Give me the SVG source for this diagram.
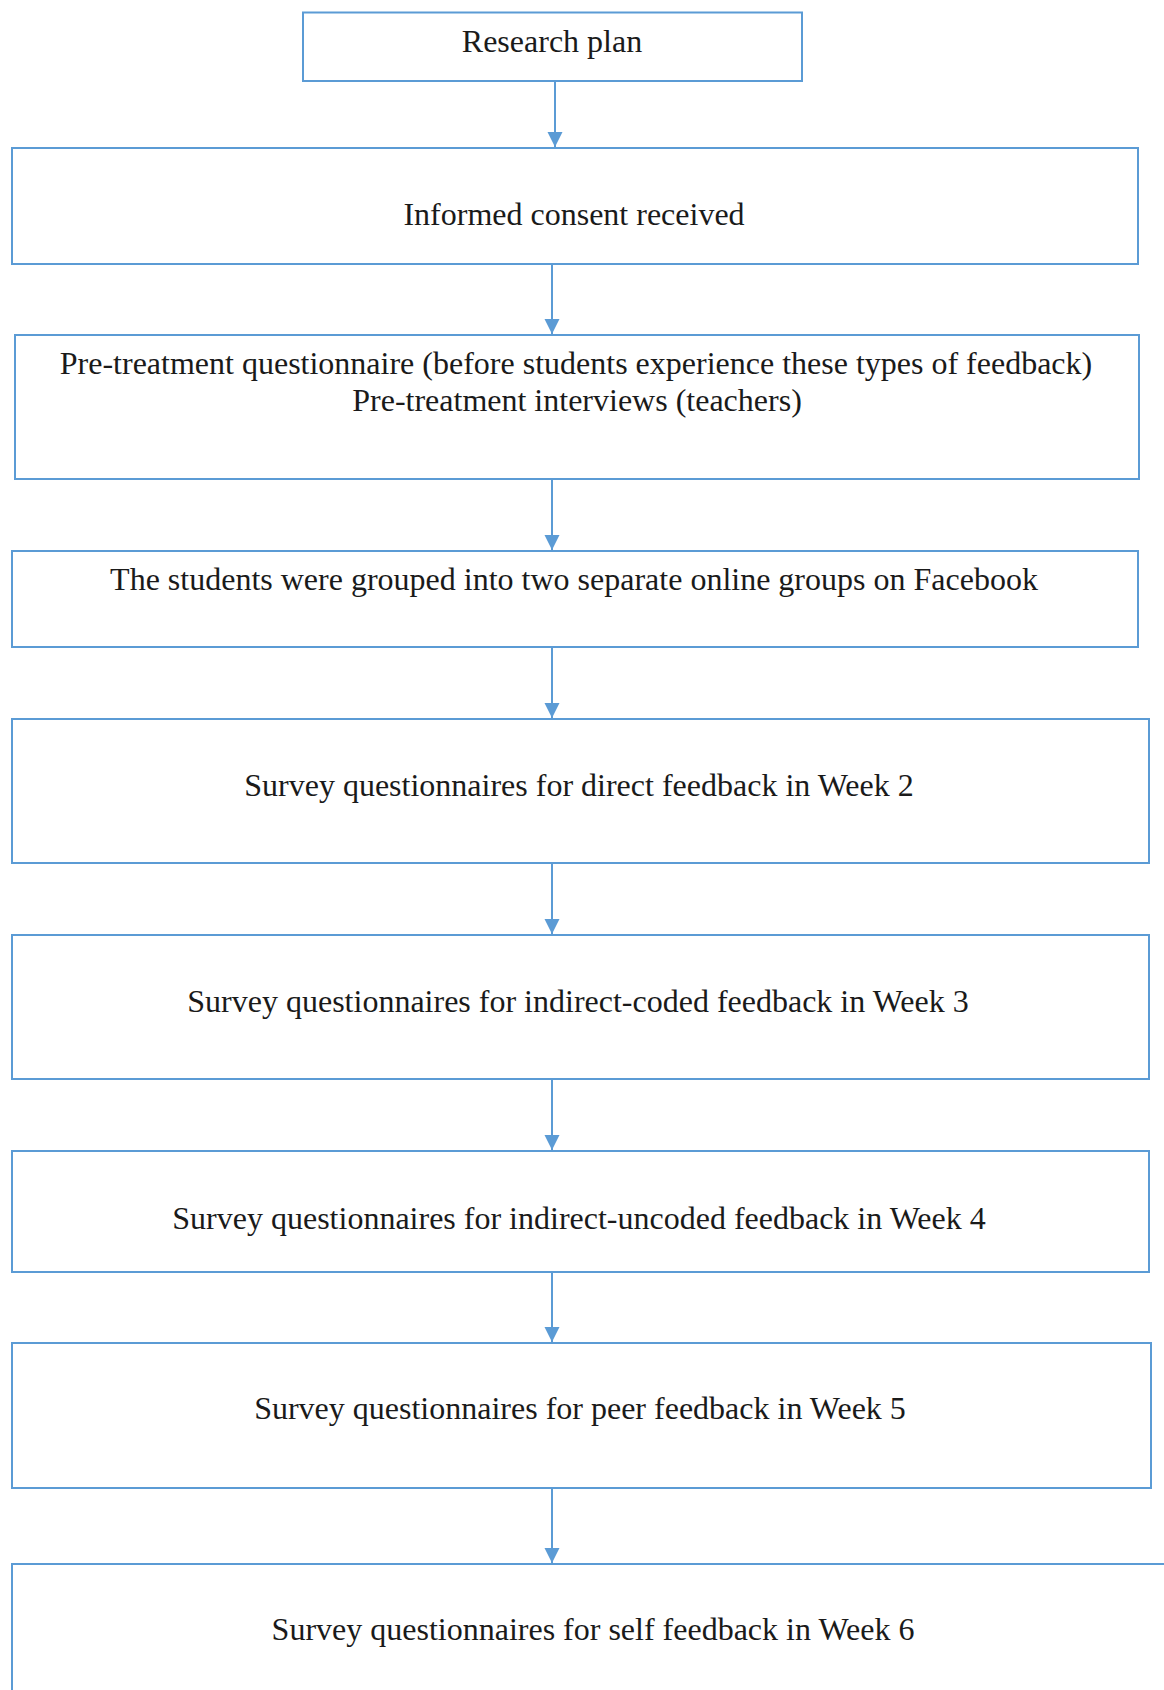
<svg xmlns="http://www.w3.org/2000/svg" width="1164" height="1690" viewBox="0 0 1164 1690">
<style>
  .box { fill: #ffffff; stroke: #5b9bd5; stroke-width: 2; }
  .lbl { font-family: "Liberation Serif", "Times New Roman", serif; font-size: 32px; fill: #1a1a1a; text-anchor: middle; }
  .edge { stroke: #5b9bd5; stroke-width: 2; fill: none; marker-end: url(#arrow); }
</style>
<defs>
  <marker id="arrow" markerUnits="userSpaceOnUse" markerWidth="16" markerHeight="16" refX="15" refY="7.5" orient="auto">
    <path d="M0,0 L15,7.5 L0,15 Z" fill="#5b9bd5"/>
  </marker>
</defs>
<rect x="0" y="0" width="1164" height="1690" fill="#ffffff"/>
<g id="n1"><rect class="box" x="303" y="12.5" width="499" height="68.5"/><text class="lbl" x="552" y="52">Research plan</text></g>
<g id="n2"><rect class="box" x="12" y="148" width="1126" height="116"/><text class="lbl" x="574" y="225">Informed consent received</text></g>
<g id="n3"><rect class="box" x="15" y="335" width="1124" height="144"/><text class="lbl" x="576" y="374">Pre-treatment questionnaire (before students experience these types of feedback)</text><text class="lbl" x="577" y="411">Pre-treatment interviews (teachers)</text></g>
<g id="n4"><rect class="box" x="12" y="551" width="1126" height="96"/><text class="lbl" x="574" y="590">The students were grouped into two separate online groups on Facebook</text></g>
<g id="n5"><rect class="box" x="12" y="719" width="1137" height="144"/><text class="lbl" x="579" y="796">Survey questionnaires for direct feedback in Week 2</text></g>
<g id="n6"><rect class="box" x="12" y="935" width="1137" height="144"/><text class="lbl" x="578" y="1012">Survey questionnaires for indirect-coded feedback in Week 3</text></g>
<g id="n7"><rect class="box" x="12" y="1151" width="1137" height="121"/><text class="lbl" x="579" y="1229">Survey questionnaires for indirect-uncoded feedback in Week 4</text></g>
<g id="n8"><rect class="box" x="12" y="1343" width="1139" height="145"/><text class="lbl" x="580" y="1419">Survey questionnaires for peer feedback in Week 5</text></g>
<g id="n9"><rect class="box" x="12" y="1564" width="1170" height="160"/><text class="lbl" x="593" y="1640">Survey questionnaires for self feedback in Week 6</text></g>
<g id="connectors">
  <line class="edge" x1="555" y1="81" x2="555" y2="147"/>
  <line class="edge" x1="552" y1="264" x2="552" y2="334"/>
  <line class="edge" x1="552" y1="479" x2="552" y2="550"/>
  <line class="edge" x1="552" y1="647" x2="552" y2="718"/>
  <line class="edge" x1="552" y1="863" x2="552" y2="934"/>
  <line class="edge" x1="552" y1="1079" x2="552" y2="1150"/>
  <line class="edge" x1="552" y1="1272" x2="552" y2="1342"/>
  <line class="edge" x1="552" y1="1488" x2="552" y2="1563"/>
</g>
</svg>
